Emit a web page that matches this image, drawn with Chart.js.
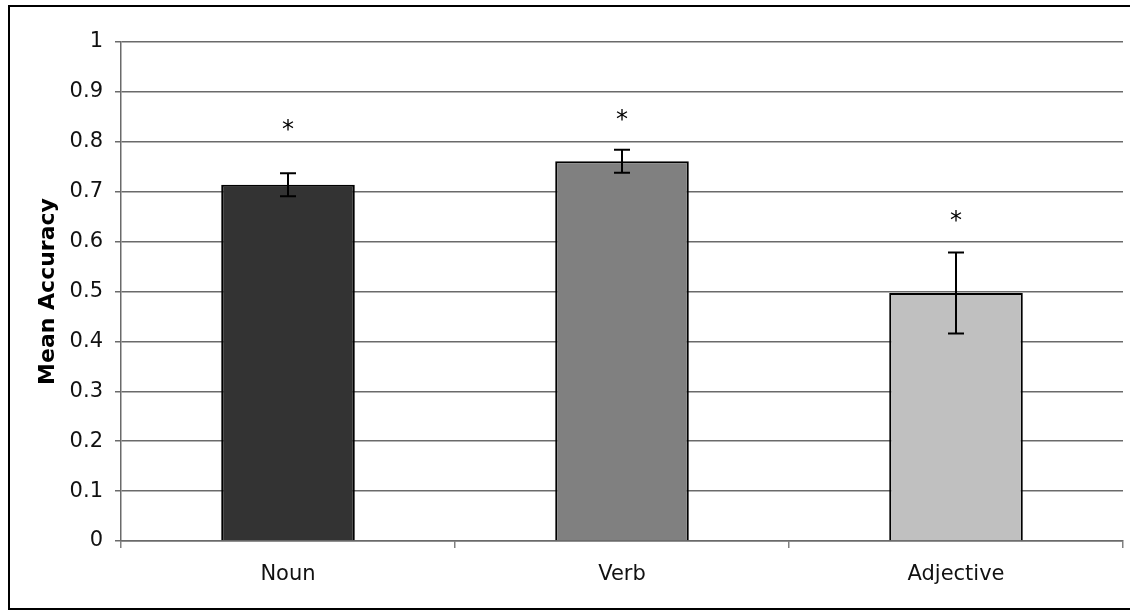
<!DOCTYPE html>
<html>
<head>
<meta charset="utf-8">
<script src="https://cdn.jsdelivr.net/npm/chart.js@4"></script>
<style>
  html, body { margin: 0; padding: 0; background: #fff; }
  canvas { display: block; }
</style>
</head>
<body>
<canvas id="c" width="1130" height="610"></canvas>
<script>
// ---- data ----
const categories = ['Noun', 'Verb', 'Adjective'];
const meanAccuracy = [0.714, 0.761, 0.497];
const errorSize = [0.023, 0.023, 0.081];
const starLevel = [0.833, 0.853, 0.649];
const barColors = ['#333333', '#808080', '#C0C0C0'];
const yTickLabels = ['0', '0.1', '0.2', '0.3', '0.4', '0.5', '0.6', '0.7', '0.8', '0.9', '1'];
const yTitle = 'Mean Accuracy';

const frame = {
  id: 'frame',
  beforeDraw(chart) {
    const ctx = chart.ctx;
    ctx.save();
    ctx.fillStyle = '#fff';
    ctx.fillRect(0, 0, chart.width, chart.height);
    ctx.strokeStyle = '#000';
    ctx.lineWidth = 2;
    ctx.strokeRect(9, 6, 1200, 603);
    ctx.restore();
  }
};

const extras = {
  id: 'extras',
  afterDatasetsDraw(chart) {
    const ctx = chart.ctx;
    const x = chart.scales.x, y = chart.scales.y;
    ctx.save();
    ctx.strokeStyle = '#000';
    ctx.lineWidth = 2;
    meanAccuracy.forEach((v, i) => {
      const cx = Math.round(x.getPixelForValue(i)) + 0.0;
      const yt = y.getPixelForValue(v + errorSize[i]);
      const yb = y.getPixelForValue(v - errorSize[i]);
      ctx.beginPath();
      ctx.moveTo(cx, yt); ctx.lineTo(cx, yb);
      ctx.moveTo(cx - 8, yt); ctx.lineTo(cx + 8, yt);
      ctx.moveTo(cx - 8, yb); ctx.lineTo(cx + 8, yb);
      ctx.stroke();
    });
    ctx.fillStyle = '#000';
    ctx.font = '24px "DejaVu Sans"';
    ctx.textAlign = 'center';
    ctx.textBaseline = 'middle';
    starLevel.forEach((v, i) => {
      ctx.fillText('*', x.getPixelForValue(i), y.getPixelForValue(v) + 5);
    });
    ctx.restore();
  }
};

new Chart(document.getElementById('c'), {
  type: 'bar',
  data: {
    labels: categories,
    datasets: [{
      data: meanAccuracy,
      backgroundColor: barColors,
      borderColor: '#000',
      borderWidth: 2,
      barPercentage: 0.4,
      categoryPercentage: 1.0
    }]
  },
  options: {
    responsive: false,
    animation: false,
    devicePixelRatio: 1,
    layout: { padding: { left: 0, top: 42, right: 7, bottom: 0 } },
    plugins: { legend: { display: false }, tooltip: { enabled: false } },
    scales: {
      x: {
        offset: true,
        grid: { display: true, drawOnChartArea: false, drawTicks: true, tickLength: 7, color: '#808080', lineWidth: 1.5, offset: true },
        border: { display: true, color: '#6a6a6a', width: 1.5 },
        ticks: { color: '#111', font: { family: 'DejaVu Sans', size: 21 }, padding: 14 },
        afterFit(scale) { scale.height = 69; }
      },
      y: {
        min: 0, max: 1,
        ticks: {
          stepSize: 0.1,
          color: '#111',
          font: { family: 'DejaVu Sans', size: 21 },
          padding: 12,
          callback: (v, i) => yTickLabels[i]
        },
        grid: { color: '#6a6a6a', lineWidth: 1.5, tickLength: 6, drawTicks: true },
        border: { display: true, color: '#6a6a6a', width: 1.5 },
        title: {
          display: true,
          text: yTitle,
          color: '#000',
          font: { family: 'DejaVu Sans', size: 22, weight: 'bold' },
          padding: { top: 35, bottom: 0 }
        },
        afterFit(scale) { scale.width = 121; }
      }
    }
  },
  plugins: [frame, extras]
});
</script>
</body>
</html>
